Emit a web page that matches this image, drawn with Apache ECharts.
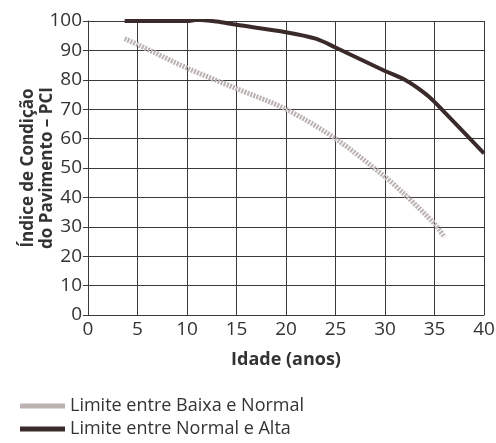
<!DOCTYPE html>
<html>
<head>
<meta charset="utf-8">
<script src="https://cdn.jsdelivr.net/npm/echarts@6/dist/echarts.min.js"></script>
<style>
  html, body { margin: 0; padding: 0; background: #fff; }
  #chart { width: 496px; height: 443px; }
</style>
</head>
<body>
<div id="chart"></div>
<script>
// PCI limits by pavement age: [age (years), PCI]
const baixaNormal = [[3.7, 94], [5, 92], [10, 84], [15, 77], [20, 70], [25, 60], [30, 47], [32, 41], [35, 31], [36, 26.5]];
const normalAlta = [[3.7, 100], [10, 100], [11, 100.4], [13, 99.8], [15, 98.7], [20, 96.2], [23, 94], [25, 91], [30, 83], [32, 80], [34, 75.5], [35, 72.5], [36, 69], [40, 55]];
const seriesNames = ['Limite entre Baixa e Normal', 'Limite entre Normal e Alta'];
const xTitle = 'Idade (anos)';
const yTitle = 'Índice de Condição\ndo Pavimento – PCI';

const FONT = '"Open Sans", sans-serif';
const GRID = '#3a3a3a';
const LIGHT = '#bdb2b2';
const DARK = '#3b2a2a';

const chart = echarts.init(document.getElementById('chart'), null, { renderer: 'canvas' });
chart.setOption({
  animation: false,
  backgroundColor: '#ffffff',
  textStyle: { fontFamily: FONT, color: '#333' },
  grid: { left: 88, right: 12, top: 21, bottom: 128, containLabel: false, outerBoundsMode: 'none' },
  xAxis: {
    type: 'value', min: 0, max: 40, interval: 5,
    name: xTitle, nameLocation: 'middle', nameGap: 36, nameMoveOverlap: false,
    nameTextStyle: { fontFamily: FONT, fontSize: 18, fontWeight: 'bold', color: '#333' },
    axisLine: { show: true, lineStyle: { color: GRID, width: 1 } },
    axisTick: { show: false },
    axisLabel: { fontFamily: FONT, fontSize: 19, color: '#333', margin: 5 },
    splitLine: { show: true, lineStyle: { color: GRID, width: 1 } }
  },
  yAxis: {
    type: 'value', min: 0, max: 100, interval: 10,
    name: yTitle, nameLocation: 'middle', nameGap: 31, nameRotate: 90, nameMoveOverlap: false,
    nameTextStyle: { fontFamily: FONT, fontSize: 17, fontWeight: 'bold', color: '#333', lineHeight: 19 },
    axisLine: { show: true, lineStyle: { color: GRID, width: 1 } },
    axisTick: { show: true, length: 5, lineStyle: { color: GRID } },
    axisLabel: { fontFamily: FONT, fontSize: 19, color: '#333', margin: 6 },
    splitLine: { show: true, lineStyle: { color: GRID, width: 1 } }
  },
  legend: {
    orient: 'vertical', left: 15, top: 392, height: 50,
    itemWidth: 45, itemHeight: 5, itemGap: 5,
    textStyle: { fontFamily: FONT, fontSize: 18, color: '#333' },
    data: [
      { name: seriesNames[0], icon: 'rect', itemStyle: { color: LIGHT } },
      { name: seriesNames[1], icon: 'rect', itemStyle: { color: DARK } }
    ]
  },
  series: [
    {
      name: seriesNames[0], type: 'line', data: baixaNormal,
      showSymbol: false, symbol: 'none', smooth: 0.3,
      lineStyle: { color: LIGHT, width: 5, type: [2, 1.2], cap: 'butt' },
      itemStyle: { color: LIGHT }
    },
    {
      name: seriesNames[1], type: 'line', data: normalAlta,
      showSymbol: false, symbol: 'none', smooth: 0.3,
      lineStyle: { color: DARK, width: 4 },
      itemStyle: { color: DARK }
    }
  ]
});
</script>
</body>
</html>
